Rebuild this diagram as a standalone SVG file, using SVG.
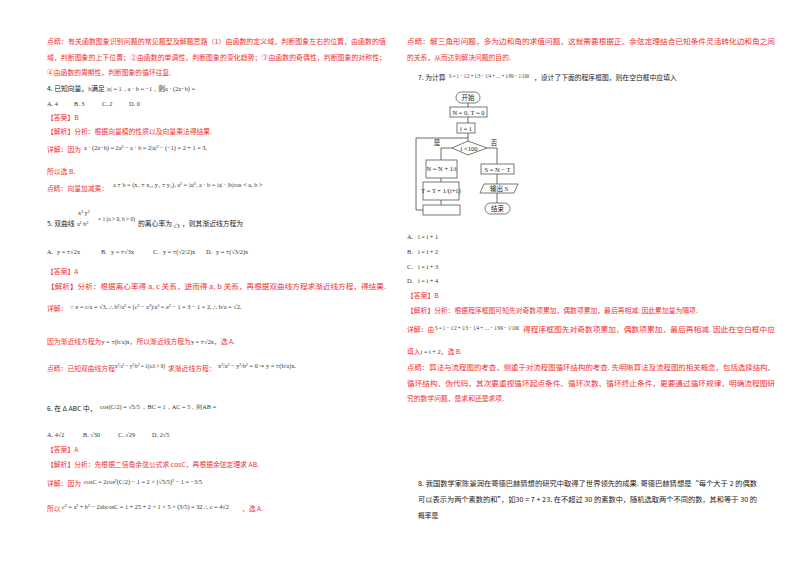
<svg xmlns="http://www.w3.org/2000/svg" width="800" height="566" viewBox="0 0 800 566">
<style>
text{font-family:"Noto Sans CJK SC","Liberation Serif",serif;font-size:6.8px}
.r{fill:#f03030}.k{fill:#222}.m{font-family:"Liberation Serif",serif;fill:#333;font-size:6.3px}
.b{fill:#fff;stroke:#555;stroke-width:0.8}
.l{fill:none;stroke:#444;stroke-width:0.8}
.f{font-family:"Liberation Serif","Noto Sans CJK SC",serif;font-size:6.5px;fill:#222;text-anchor:middle}
</style>
<rect width="800" height="566" fill="#fff"/>
<g id="left">
<text x="47" y="44" class="r" textLength="339" lengthAdjust="spacingAndGlyphs">点睛：有关函数图象识别问题的常见题型及解题思路（1）由函数的定义域，判断图象左右的位置，由函数的值</text>
<text x="47" y="60" class="r" textLength="339" lengthAdjust="spacingAndGlyphs">域，判断图象的上下位置；②由函数的单调性，判断图象的变化趋势；③由函数的奇偶性，判断图象的对称性；</text>
<text x="47" y="75" class="r">④由函数的周期性，判断图象的循环往复.</text>
<text x="47" y="91" class="k">4. 已知向量，<tspan class="m">b</tspan>满足 <tspan class="m">|a| = 1，a · b = −1，</tspan>则<tspan class="m">a · (2a−b) =</tspan></text>
<text y="106" class="m"><tspan x="47">A.  4</tspan><tspan x="74">B.  3</tspan><tspan x="102">C.  2</tspan><tspan x="129">D.  0</tspan></text>
<text x="47" y="120" class="r">【答案】B</text>
<text x="47" y="134" class="r">【解析】分析：根据向量模的性质以及向量乘法得结果.</text>
<text x="47" y="152" class="r">详解：因为</text><text x="84" y="150" class="m">a · (2a−b) = 2a² − a · b = 2|a|² − (−1) = 2 + 1 = 3.</text>
<text x="47" y="174" class="r">所以选 B.</text>
<text x="47" y="191" class="r">点睛：向量加减乘：</text><text x="113" y="187" class="m">a ± b = (x₁ ± x₂, y₁ ± y₂), a² = |a|², a · b = |a| · |b|cos &lt; a, b &gt;</text>
<text x="47" y="226" class="k">5. 双曲线</text><text x="78" y="215" class="m" font-size="5.5">x²    y²</text><text x="77" y="226" class="m" font-size="5.5">a²    b²</text><text x="98" y="221" class="m" font-size="5" textLength="37" lengthAdjust="spacingAndGlyphs">= 1 (a &gt; 0, b &gt; 0)</text><text x="138" y="226" class="k">的离心率为</text><text x="173" y="228" class="m">√3</text><text x="182" y="226" class="k">，则其渐近线方程为</text>
<text y="254" class="m"><tspan x="47">A.</tspan><tspan x="57">y = ±√2x</tspan><tspan x="101">B.</tspan><tspan x="111">y = ±√3x</tspan><tspan x="153">C.</tspan><tspan x="163">y = ±(√2/2)x</tspan><tspan x="206">D.</tspan><tspan x="216">y = ±(√3/2)x</tspan></text>
<text x="47" y="274" class="r">【答案】A</text>
<text x="47" y="289" class="r" textLength="339" lengthAdjust="spacingAndGlyphs">【解析】分析：根据离心率得 a, c 关系，进而得 a, b 关系，再根据双曲线方程求渐近线方程，得结果.</text>
<text x="47" y="311" class="r">详解：</text><text x="70" y="309" class="m">∵ e = c/a = √3, ∴ b²/a² = (c² − a²)/a² = e² − 1 = 3 − 1 = 2, ∴ b/a = √2.</text>
<text x="47" y="344" class="r">因为渐近线方程为<tspan class="m">y = ±(b/a)x</tspan>，所以渐近线方程为<tspan class="m">y = ±√2x</tspan>，选 A.</text>
<text x="47" y="371" class="r">点睛：已知双曲线方程</text><text x="115" y="368" class="m" font-size="5.5" textLength="50" lengthAdjust="spacingAndGlyphs">x²/a² − y²/b² = 1(a,b &gt; 0)</text><text x="168" y="371" class="r">求渐近线方程：</text><text x="218" y="368" class="m" font-size="5.5">x²/a² − y²/b² = 0 ⇒ y = ±(b/a)x.</text>
<text x="47" y="411" class="k">6. 在 Δ ABC 中，</text><text x="100" y="409" class="m">cos(C/2) = √5/5 ，BC = 1，AC = 5，则AB =</text>
<text y="437" class="m"><tspan x="47">A.  4√2</tspan><tspan x="83">B.  √30</tspan><tspan x="118">C.  √29</tspan><tspan x="152">D.  2√5</tspan></text>
<text x="47" y="452" class="r">【答案】A</text>
<text x="47" y="467" class="r">【解析】分析：先根据二倍角余弦公式求 cosC，再根据余弦定理求 AB.</text>
<text x="47" y="486" class="r">详解：因为</text><text x="84" y="484" class="m">cosC = 2cos²(C/2) − 1 = 2 × (√5/5)² − 1 = −3/5</text>
<text x="47" y="511" class="r">所以</text><text x="62" y="509" class="m" font-size="5.8">c² = a² + b² − 2abcosC = 1 + 25 + 2 × 1 × 5 × (3/5) = 32 ∴ c = 4√2</text><text x="242" y="511" class="r">，选 A.</text>
</g>
<g id="right">
<text x="407" y="44" class="r" textLength="368" lengthAdjust="spacingAndGlyphs">点睛：解三角形问题，多为边和角的求值问题，这就需要根据正、余弦定理结合已知条件灵活转化边和角之间</text>
<text x="407" y="60" class="r">的关系，从而达到解决问题的目的.</text>
<text x="418" y="80" class="k">7. 为计算</text><text x="449" y="78" class="m" font-size="5.8" textLength="80" lengthAdjust="spacingAndGlyphs">S = 1 − 1/2 + 1/3 − 1/4 + … + 1/99 − 1/100</text><text x="534" y="80" class="k">，设计了下面的程序框图，则在空白框中应填入</text>
<text y="239" class="m"><tspan x="407">A.</tspan><tspan x="418">i = i + 1</tspan></text>
<text y="254" class="m"><tspan x="407">B.</tspan><tspan x="418">i = i + 2</tspan></text>
<text y="269" class="m"><tspan x="407">C.</tspan><tspan x="418">i = i + 3</tspan></text>
<text y="283" class="m"><tspan x="407">D.</tspan><tspan x="418">i = i + 4</tspan></text>
<text x="407" y="298" class="r">【答案】B</text>
<text x="407" y="313" class="r">【解析】分析：根据程序框图可知先对奇数项累加，偶数项累加，最后再相减. 因此累加量为隔项.</text>
<text x="407" y="332" class="r">详解：由</text><text x="435" y="330" class="m" font-size="5.5" textLength="84" lengthAdjust="spacingAndGlyphs">S = 1 − 1/2 + 1/3 − 1/4 + … − 1/99 − 1/100</text><text x="523" y="332" class="r" textLength="252" lengthAdjust="spacingAndGlyphs">得程序框图先对奇数项累加，偶数项累加，最后再相减. 因此在空白框中应</text>
<text x="407" y="354" class="r">填入<tspan class="m">i = i + 2</tspan>，选 B.</text>
<text x="407" y="370" class="r" textLength="368" lengthAdjust="spacingAndGlyphs">点睛：算法与流程图的考查，侧重于对流程图循环结构的考查. 先明晰算法及流程图的相关概念，包括选择结构、</text>
<text x="407" y="386" class="r" textLength="368" lengthAdjust="spacingAndGlyphs">循环结构、伪代码，其次要重视循环起点条件、循环次数、循环终止条件，更要通过循环规律，明确流程图研</text>
<text x="407" y="401" class="r">究的数学问题，是求和还是求项.</text>
<text x="418" y="486" class="k" textLength="339" lengthAdjust="spacingAndGlyphs">8. 我国数学家陈景润在哥德巴赫猜想的研究中取得了世界领先的成果. 哥德巴赫猜想是“每个大于 2 的偶数</text>
<text x="418" y="502" class="k" textLength="339" lengthAdjust="spacingAndGlyphs">可以表示为两个素数的和”，如30 = 7 + 23. 在不超过 30 的素数中，随机选取两个不同的数，其和等于 30 的</text>
<text x="418" y="518" class="k">概率是</text>
</g>
<g id="connectors">
<path class="l" d="M468 103V107M468 117V123M468 133V141M441 148H452M441 148V160M441 178V182M441 200V205M497 148H487M497 148V164M497 174V184M497 193V203M423 210H416V138H468"/>
</g>
<g id="start"><rect class="b" x="456" y="92" width="24" height="11" rx="5.5"/><text class="f" x="468" y="100">开始</text></g>
<g id="init"><rect class="b" x="450" y="107" width="37" height="10"/><text class="f" x="468.5" y="114.5">N = 0, T = 0</text></g>
<g id="i1"><rect class="b" x="457" y="123" width="18" height="10"/><text class="f" x="466" y="130.5">i = 1</text></g>
<g id="cond"><polygon class="b" points="452,148 468,141 487,148 468,155"/><text class="f" x="469" y="150.5">i &lt;100</text><text class="f" x="437" y="145">是</text><text class="f" x="494" y="145">否</text></g>
<g id="nstep"><rect class="b" x="426" y="160" width="31" height="18"/><text class="f" x="441.5" y="171" font-size="5.8">N = N + 1/i</text></g>
<g id="tstep"><rect class="b" x="423" y="182" width="36" height="18"/><text class="f" x="441" y="193" font-size="5.8">T = T + 1/(i+1)</text></g>
<g id="blank"><rect class="b" x="423" y="205" width="37" height="10"/></g>
<g id="snt"><rect class="b" x="481" y="164" width="33" height="10"/><text class="f" x="497.5" y="171.5">S = N − T</text></g>
<g id="out"><polygon class="b" points="484,184 518,184 514,193 480,193"/><text class="f" x="499" y="190.5">输出 S</text></g>
<g id="end"><rect class="b" x="485" y="203" width="25" height="11" rx="5.5"/><text class="f" x="497.5" y="211">结束</text></g>
</svg>
